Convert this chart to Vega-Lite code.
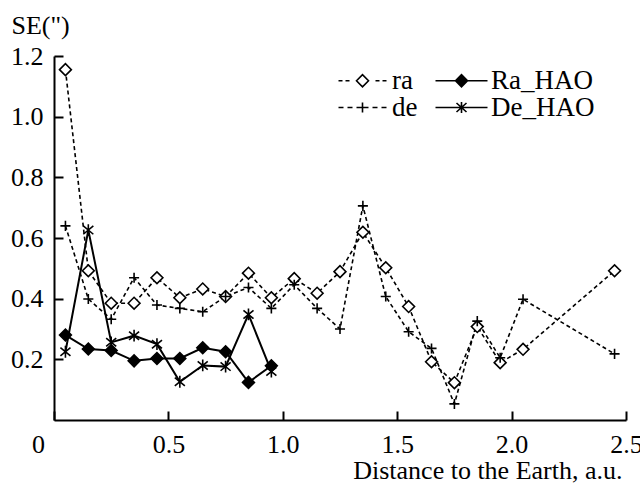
{
  "$schema": "https://vega.github.io/schema/vega-lite/v6.json",
  "autosize": {"type": "none"},
  "padding": {"left": 54, "top": 56, "right": 14, "bottom": 70},
  "width": 572,
  "height": 364,
  "config": {
    "view": {"stroke": null},
    "font": "Liberation Serif",
    "axis": {
      "domainColor": "black", "domainWidth": 2,
      "tickColor": "black", "tickWidth": 2, "tickSize": -9,
      "labelFont": "Liberation Serif", "labelFontSize": 26, "labelColor": "black",
      "titleFont": "Liberation Serif", "titleFontSize": 26, "titleFontWeight": "normal", "titleColor": "black",
      "grid": false
    }
  },
  "data": {"values": [
    {"s": "ra", "x": 0.05, "y": 1.155}, {"s": "ra", "x": 0.15, "y": 0.492}, {"s": "ra", "x": 0.25, "y": 0.385},
    {"s": "ra", "x": 0.35, "y": 0.385}, {"s": "ra", "x": 0.45, "y": 0.469}, {"s": "ra", "x": 0.55, "y": 0.403},
    {"s": "ra", "x": 0.65, "y": 0.432}, {"s": "ra", "x": 0.75, "y": 0.407}, {"s": "ra", "x": 0.85, "y": 0.484},
    {"s": "ra", "x": 0.95, "y": 0.403}, {"s": "ra", "x": 1.05, "y": 0.466}, {"s": "ra", "x": 1.15, "y": 0.418},
    {"s": "ra", "x": 1.25, "y": 0.489}, {"s": "ra", "x": 1.35, "y": 0.619}, {"s": "ra", "x": 1.45, "y": 0.502},
    {"s": "ra", "x": 1.55, "y": 0.374}, {"s": "ra", "x": 1.65, "y": 0.192}, {"s": "ra", "x": 1.75, "y": 0.123},
    {"s": "ra", "x": 1.85, "y": 0.308}, {"s": "ra", "x": 1.95, "y": 0.189}, {"s": "ra", "x": 2.05, "y": 0.233},
    {"s": "ra", "x": 2.45, "y": 0.492},
    {"s": "de", "x": 0.05, "y": 0.64}, {"s": "de", "x": 0.15, "y": 0.399}, {"s": "de", "x": 0.25, "y": 0.332},
    {"s": "de", "x": 0.35, "y": 0.469}, {"s": "de", "x": 0.45, "y": 0.379}, {"s": "de", "x": 0.55, "y": 0.368},
    {"s": "de", "x": 0.65, "y": 0.357}, {"s": "de", "x": 0.75, "y": 0.407}, {"s": "de", "x": 0.85, "y": 0.437},
    {"s": "de", "x": 0.95, "y": 0.368}, {"s": "de", "x": 1.05, "y": 0.446}, {"s": "de", "x": 1.15, "y": 0.368},
    {"s": "de", "x": 1.25, "y": 0.30}, {"s": "de", "x": 1.35, "y": 0.706}, {"s": "de", "x": 1.45, "y": 0.407},
    {"s": "de", "x": 1.55, "y": 0.291}, {"s": "de", "x": 1.65, "y": 0.236}, {"s": "de", "x": 1.75, "y": 0.053},
    {"s": "de", "x": 1.85, "y": 0.326}, {"s": "de", "x": 1.95, "y": 0.205}, {"s": "de", "x": 2.05, "y": 0.398},
    {"s": "de", "x": 2.45, "y": 0.218},
    {"s": "Ra_HAO", "x": 0.05, "y": 0.28}, {"s": "Ra_HAO", "x": 0.15, "y": 0.234}, {"s": "Ra_HAO", "x": 0.25, "y": 0.229},
    {"s": "Ra_HAO", "x": 0.35, "y": 0.195}, {"s": "Ra_HAO", "x": 0.45, "y": 0.203}, {"s": "Ra_HAO", "x": 0.55, "y": 0.203},
    {"s": "Ra_HAO", "x": 0.65, "y": 0.238}, {"s": "Ra_HAO", "x": 0.75, "y": 0.225}, {"s": "Ra_HAO", "x": 0.85, "y": 0.124},
    {"s": "Ra_HAO", "x": 0.95, "y": 0.179},
    {"s": "De_HAO", "x": 0.05, "y": 0.225}, {"s": "De_HAO", "x": 0.15, "y": 0.626}, {"s": "De_HAO", "x": 0.25, "y": 0.256},
    {"s": "De_HAO", "x": 0.35, "y": 0.278}, {"s": "De_HAO", "x": 0.45, "y": 0.25}, {"s": "De_HAO", "x": 0.55, "y": 0.126},
    {"s": "De_HAO", "x": 0.65, "y": 0.18}, {"s": "De_HAO", "x": 0.75, "y": 0.176}, {"s": "De_HAO", "x": 0.85, "y": 0.348},
    {"s": "De_HAO", "x": 0.95, "y": 0.16}
  ]},
  "encoding": {
    "x": {"field": "x", "type": "quantitative",
      "scale": {"domain": [0, 2.5], "nice": false, "zero": false},
      "axis": {"values": [0, 0.5, 1, 1.5, 2, 2.5], "labelExpr": "datum.value === 0 ? '0' : format(datum.value, '.1f')",
        "labelFlush": false, "labelOverlap": false, "labelPadding": 20,
        "labelOffset": {"condition": {"test": "datum.value === 0", "value": -16}, "value": 0},
        "title": "Distance to the Earth, a.u.", "titleAlign": "right", "titleAnchor": "end",
        "titleX": 568, "titleY": 58, "titleBaseline": "alphabetic"}},
    "y": {"field": "y", "type": "quantitative",
      "scale": {"domain": [0, 1.2], "nice": false},
      "axis": {"values": [0.2, 0.4, 0.6, 0.8, 1.0, 1.2], "labelExpr": "format(datum.value, '.1f')",
        "labelPadding": 20, "labelBaseline": "middle", "labelOverlap": false, "labelFlush": false,
        "title": "SE(\")", "titleAngle": 0, "titleAlign": "left", "titleBaseline": "alphabetic",
        "titleX": -43, "titleY": -23}}
  },
  "layer": [
    {
      "transform": [{"filter": "datum.s === 'ra' || datum.s === 'de'"}],
      "mark": {"type": "line", "color": "black", "strokeWidth": 1.6, "strokeDash": [4, 3]},
      "encoding": {"detail": {"field": "s"}}
    },
    {
      "transform": [{"filter": "datum.s === 'Ra_HAO' || datum.s === 'De_HAO'"}],
      "mark": {"type": "line", "color": "black", "strokeWidth": 2},
      "encoding": {"detail": {"field": "s"}}
    },
    {
      "mark": {"type": "point", "stroke": "black", "strokeWidth": 1.6, "opacity": 1, "size": 140},
      "encoding": {
        "shape": {"field": "s", "type": "nominal", "legend": null,
          "scale": {"domain": ["ra", "de", "Ra_HAO", "De_HAO"],
            "range": ["M-1,0L0,-1L1,0L0,1Z", "M-0.85,0L0.85,0M0,-0.85L0,0.85", "M-1,0L0,-1L1,0L0,1Z", "M0,-1L0,1M-0.85,-0.7L0.85,0.7M-0.85,0.7L0.85,-0.7"]}},
        "fill": {"field": "s", "type": "nominal", "legend": null,
          "scale": {"domain": ["ra", "de", "Ra_HAO", "De_HAO"], "range": ["white", "white", "black", "white"]}}
      }
    },
    {
      "mark": {"type": "point", "filled": false, "color": "black", "strokeWidth": 1.6, "opacity": 0, "size": 400},
      "encoding": {
        "shape": {"field": "s", "type": "nominal",
          "scale": {"domain": ["ra", "de", "Ra_HAO", "De_HAO"],
            "range": [
              "M-2.4,0L-2.0,0M-1.7,0L-1.3,0M-0.6,0L0,-0.6L0.6,0L0,0.6ZM1.3,0L1.7,0M2.0,0L2.4,0",
              "M-2.4,0L-1.9,0M-1.5,0L-1.0,0M-0.6,0L0.6,0M0,-0.5L0,0.5M1.0,0L1.5,0M1.9,0L2.4,0",
              "M-2.6,0L2.6,0M-0.6,0L0,-0.6L0.6,0L0,0.6ZM-0.45,0L0,-0.45L0.45,0L0,0.45ZM-0.3,0L0,-0.3L0.3,0L0,0.3ZM-0.15,0L0,-0.15L0.15,0L0,0.15Z",
              "M-2.6,0L2.6,0M0,-0.55L0,0.55M-0.5,-0.45L0.5,0.45M-0.5,0.45L0.5,-0.45"
            ]},
          "legend": {"orient": "none", "legendX": 295, "legendY": 11, "columns": 2, "title": null,
            "labelFont": "Liberation Serif", "labelFontSize": 27, "labelColor": "black",
            "symbolSize": 400, "symbolStrokeColor": "black", "symbolFillColor": "transparent", "symbolStrokeWidth": 1.6, "symbolOpacity": 1,
            "labelOffset": 16, "columnPadding": 14, "rowPadding": -3, "padding": 0,
            "encode": {"symbols": {"update": {"stroke": {"value": "black"}, "strokeOpacity": {"value": 1}, "strokeWidth": {"value": 1.6}, "opacity": {"value": 1}}}}}}
      }
    }
  ],
  "resolve": {"scale": {"shape": "independent", "fill": "independent"}}
}
